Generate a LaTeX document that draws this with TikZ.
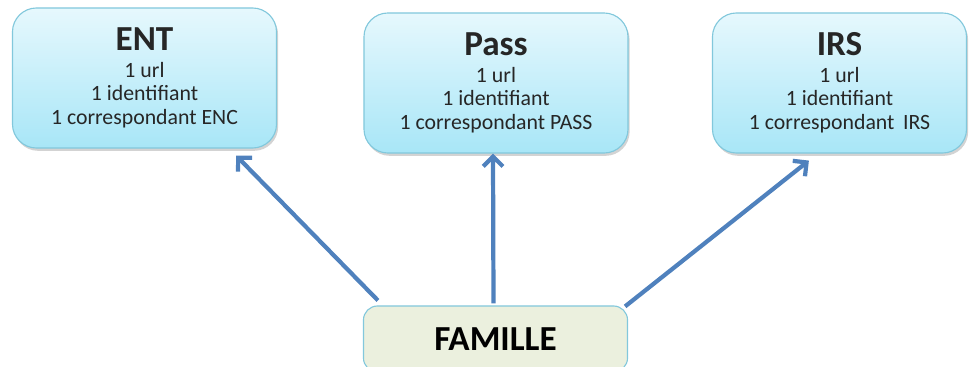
\documentclass[tikz,border=0pt]{standalone}
\usepackage{fontspec}
\setmainfont{Carlito}
\usetikzlibrary{arrows.meta,calc,shadows}

\definecolor{arrowblue}{HTML}{4F81BD}
\definecolor{boxtop}{HTML}{E6F8FD}
\definecolor{boxbottom}{HTML}{A8E6F7}
\definecolor{boxline}{HTML}{82C8DC}
\definecolor{famfill}{HTML}{EBF0DE}

\newcommand{\titrebox}[1]{{\fontsize{25}{26}\selectfont\bfseries #1}}

\tikzset{
  appbox/.style={rounded corners=0.6cm, draw=boxline, line width=0.8pt,
    top color=boxtop, bottom color=boxbottom,
    minimum width=6.6cm, minimum height=3.5cm, align=center,
    text=black!85, font=\fontsize{15.5}{16.8}\selectfont,
    drop shadow={shadow xshift=0.04cm, shadow yshift=-0.07cm, opacity=0.35}},
  fambox/.style={rounded corners=0.35cm, draw=boxline, line width=0.8pt,
    fill=famfill, minimum width=6.6cm, minimum height=1.65cm,
    font=\fontsize{25}{26}\selectfont\bfseries},
  lien/.style={draw=arrowblue, line width=3pt,
    -{Straight Barb[length=7pt,width=14pt]}}
}

\begin{document}
\begin{tikzpicture}[x=0.025cm, y=-0.025cm]
\useasboundingbox (0,0) rectangle (969,367);

\node[appbox] (ent) at (144.5,78) {\titrebox{ENT}\\[2pt] 1 url\\ 1 identifiant\\ 1 correspondant ENC};
\node[appbox] (pass) at (496,83) {\titrebox{Pass}\\[2pt] 1 url\\ 1 identifiant\\ 1 correspondant PASS};
\node[appbox, minimum width=6.35cm] (irs) at (839.5,83) {\titrebox{IRS}\\[2pt] 1 url\\ 1 identifiant\\ 1 correspondant\, IRS};

\node[fambox] (fam) at (495.5,339) {FAMILLE};

\draw[lien] ($(fam.north west)+(15,-5)$) -- ($(ent.south east)+(-41,7)$);
\draw[lien] ($(fam.north)+(-2,-2)$) -- ($(pass.south)+(-3,0)$);
\draw[lien] ($(fam.north east)+(-3,1)$) -- ($(irs.south west)+(97,7)$);

\end{tikzpicture}
\end{document}
